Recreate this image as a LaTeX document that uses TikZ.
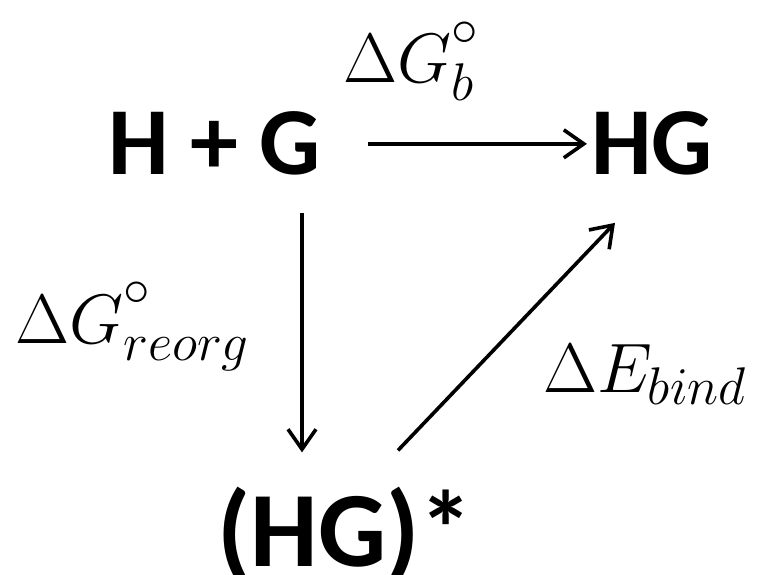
\documentclass[tikz,border=0pt]{standalone}
\usepackage{fix-cm}
\usepackage{amsmath}
\usepackage{fontspec}
\usepackage{tikz}
\usetikzlibrary{arrows.meta, positioning}
\newfontfamily\speciesfont{Carlito}
\DeclareMathSizes{70}{70}{53}{40}
\newcommand{\stdeg}{\raisebox{12pt}{$\scriptstyle\circ$}}

\begin{document}
\begin{tikzpicture}[
    x=1pt, y=1pt,
    species/.style={font=\speciesfont\bfseries\fontsize{96}{110}\selectfont, inner sep=0pt, anchor=base},
    energy/.style={font=\fontsize{70}{80}\selectfont, inner sep=0pt, anchor=base west},
    react/.style={-{Straight Barb[length=20pt, width=28pt]}, line width=3.6pt}
]
\useasboundingbox (0,0) rectangle (769,574);

\node[species] (free) at (214.5,399) {H + G};
\node[species] (complex) at (652,399) {HG};
\node[species, font=\speciesfont\bfseries\fontsize{107}{120}\selectfont] (excited) at (345,8) {(HG)*};

\node[energy] (dgb) at (343,491) {$\Delta G^{\stdeg}_{b}$};
\node[energy] (dgreorg) at (15,231) {$\Delta G^{\stdeg}_{reorg}$};
\node[energy] (debind) at (543,182) {$\Delta E_{bind}$};

\draw[react, shorten <=47pt, shorten >=4pt] (free) -- (complex);
\draw[react] ([xshift=87.5pt, yshift=-37pt]free.south) -- ([xshift=-43pt, yshift=34pt]excited.north);
\draw[react] ([xshift=53pt, yshift=36pt]excited.north) -- ([xshift=-37pt, yshift=-47pt]complex.south);

\end{tikzpicture}
\end{document}
